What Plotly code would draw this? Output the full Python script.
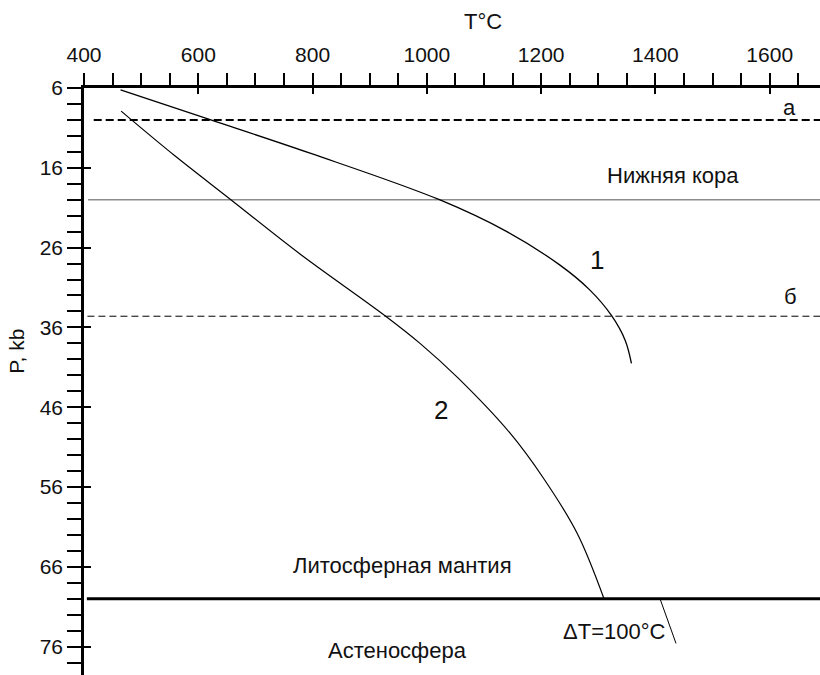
import plotly.graph_objects as go

# ---- data ----
curve1_T = [464, 622, 797, 1022, 1140, 1233, 1285, 1323, 1347, 1358]
curve1_P = [6.25, 10.0, 14.2, 20.0, 24.0, 28.2, 31.3, 34.5, 37.6, 40.5]

curve2_T = [465, 559, 657, 778, 928, 988, 1054, 1145, 1205, 1263, 1310]
curve2_P = [8.9, 14.5, 20.0, 26.8, 34.6, 38.0, 42.3, 49.2, 55.0, 61.8, 70.0]

dT_T = [1408, 1436]
dT_P = [70.0, 75.6]

level_a = 10.0       # dashed "a"
level_crust = 20.0   # lower crust boundary (gray)
level_b = 34.6       # dashed "б"
level_lab = 70.0     # lithosphere / asthenosphere

x_ticks = [400, 600, 800, 1000, 1200, 1400, 1600]
y_ticks = [6, 16, 26, 36, 46, 56, 66, 76]

X_RANGE = [400, 1688]
Y_RANGE = [79.56, 6]

FONT = "Liberation Sans, Arial, sans-serif"

fig = go.Figure()

def hline(p, x0, color, width, dash):
    fig.add_trace(go.Scatter(x=[x0, 1700], y=[p, p], mode="lines",
                             line=dict(color=color, width=width, dash=dash),
                             hoverinfo="skip", showlegend=False))

hline(level_a, 417, "black", 2, "8px,4px")
hline(level_crust, 407, "#8c8c8c", 1.5, "solid")
hline(level_b, 406, "black", 1, "7px,4px")
hline(level_lab, 405, "black", 3, "solid")

fig.add_trace(go.Scatter(x=curve1_T, y=curve1_P, mode="lines",
                         line=dict(color="black", width=1.3, shape="spline", smoothing=1.0),
                         showlegend=False))
fig.add_trace(go.Scatter(x=curve2_T, y=curve2_P, mode="lines",
                         line=dict(color="black", width=1.2, shape="spline", smoothing=1.0),
                         showlegend=False))
fig.add_trace(go.Scatter(x=dT_T, y=dT_P, mode="lines",
                         line=dict(color="black", width=1), showlegend=False))

# helper trace for overlay axes (inner part of major ticks)
fig.add_trace(go.Scatter(x=[None], y=[None], xaxis="x2", yaxis="y2",
                         showlegend=False, hoverinfo="skip"))

ann = [
    ("a", 1635, 8.5, 22),
    ("Нижняя кора", 1430, 17.0, 22),
    ("б", 1637, 32.1, 22),
    ("1", 1298, 27.6, 26),
    ("2", 1025, 46.4, 26),
    ("Литосферная мантия", 958, 65.8, 22),
    ("Астеносфера", 949, 76.55, 22),
    ("ΔT=100°C", 1327, 74.1, 22),
]
for t, x, y, s in ann:
    fig.add_annotation(x=x, y=y, xref="x", yref="y", text=t, showarrow=False,
                       xanchor="center", yanchor="middle",
                       font=dict(family=FONT, size=s, color="#111"))

fig.add_annotation(x=1098, y=1, xref="x", yref="paper", text="T°C", showarrow=False,
                   xanchor="center", yanchor="middle", yshift=67,
                   font=dict(family=FONT, size=22, color="#111"))
fig.add_annotation(x=0, y=39, xref="paper", yref="y", text="P, kb", showarrow=False,
                   textangle=-90, xanchor="center", yanchor="middle", xshift=-67.5,
                   font=dict(family=FONT, size=21, color="#111"))

fig.update_layout(
    width=820, height=675,
    margin=dict(l=84, r=0, t=88, b=0),
    paper_bgcolor="white", plot_bgcolor="white",
    font=dict(family=FONT, size=21, color="#111"),
    xaxis=dict(side="top", range=X_RANGE, showgrid=False, zeroline=False,
               showline=True, linecolor="black", linewidth=2.5,
               tickmode="array", tickvals=x_ticks,
               ticks="outside", ticklen=12, tickwidth=2, tickcolor="black",
               ticklabelstandoff=3,
               minor=dict(dtick=50, tick0=400, ticks="outside", ticklen=12,
                          tickwidth=1.5, tickcolor="black", showgrid=False),
               tickfont=dict(size=21), fixedrange=True),
    yaxis=dict(range=Y_RANGE, showgrid=False, zeroline=False,
               showline=True, linecolor="black", linewidth=2.5,
               tickmode="array", tickvals=y_ticks,
               ticks="outside", ticklen=14, tickwidth=2, tickcolor="black",
               ticklabelstandoff=0,
               minor=dict(dtick=2, tick0=6, ticks="outside", ticklen=14,
                          tickwidth=1.5, tickcolor="black", showgrid=False),
               tickfont=dict(size=21), fixedrange=True),
    xaxis2=dict(overlaying="x", anchor="y2", side="top", range=X_RANGE,
                showgrid=False, zeroline=False, showline=False,
                tickmode="array", tickvals=x_ticks, showticklabels=False,
                ticks="inside", ticklen=6, tickwidth=2, tickcolor="black"),
    yaxis2=dict(overlaying="y", anchor="x2", side="left", range=Y_RANGE,
                showgrid=False, zeroline=False, showline=False,
                tickmode="array", tickvals=y_ticks, showticklabels=False,
                ticks="inside", ticklen=7, tickwidth=2, tickcolor="black"),
)

fig.write_html("out.html")
